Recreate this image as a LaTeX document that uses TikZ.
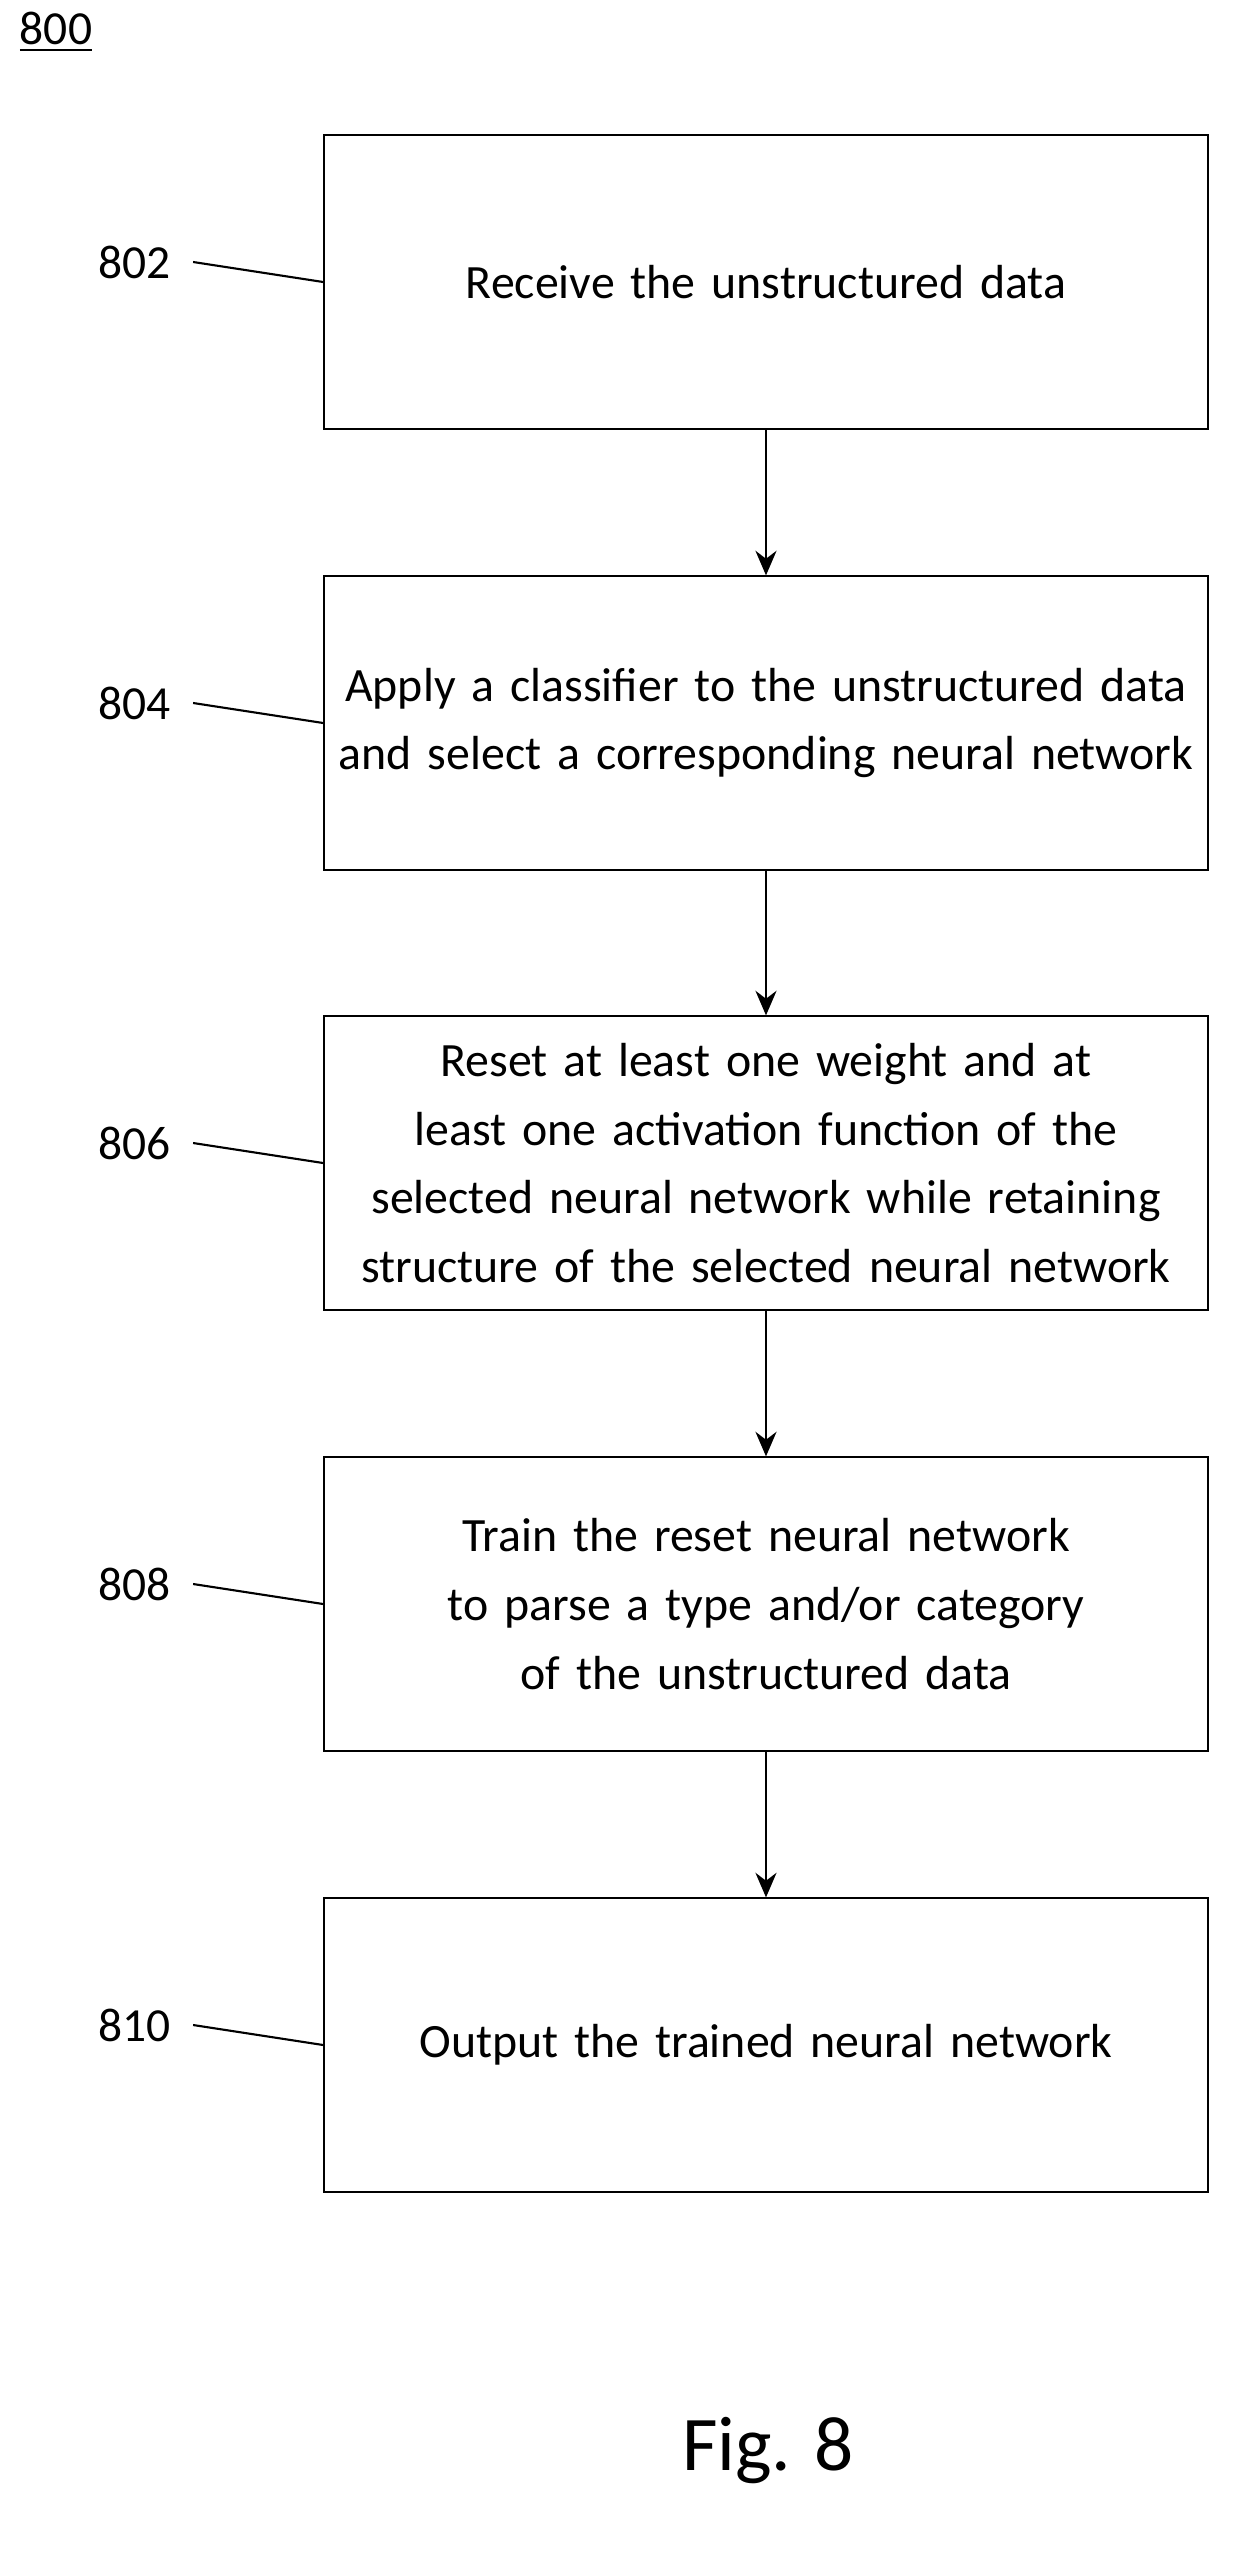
\documentclass[tikz,border=0pt]{standalone}
\usepackage{fontspec}
\setmainfont{Carlito}
\usetikzlibrary{positioning,arrows.meta}

\begin{document}
\hyphenpenalty=10000
\exhyphenpenalty=10000
\begin{tikzpicture}[
    x=0.01cm, y=-0.01cm,
    box/.style={rectangle, draw, line width=0.6pt, text width=8.75cm, align=center, minimum width=8.83cm, minimum height=2.93cm, inner xsep=1pt, font=\fontsize{13.6}{19.5}\selectfont},
    arrow/.style={-{Stealth[length=7pt,width=6pt]}, line width=0.6pt},
    lead/.style={line width=0.6pt},
    num/.style={font=\fontsize{13.5}{16}\selectfont}
]
\useasboundingbox (0,0) rectangle (1255,2562);
\node[num] at (56,32) {\underline{800}};

\node[box] (receive) at (766,282) {Receive the unstructured data};
\node[box] (classify) at (766,723) {Apply a classifier to the unstructured data and select a corresponding neural network};
\node[box] (reset) at (766,1163) {Reset at least one weight and at least one activation function of the selected neural network while retaining structure of the selected neural network};
\node[box] (train) at (766,1604) {Train the reset neural network to parse a type and/or category of the unstructured data};
\node[box] (output) at (766,2045) {Output the trained neural network};

% step numbers with leader lines
\foreach \n/\b in {802/receive,804/classify,806/reset,808/train,810/output} {
  \node[num, anchor=east] (l\n) at ([xshift=-1.4cm,yshift=0.2cm]\b.west) {\n};
  \draw[lead] ([xshift=0.1cm]l\n.east) -- (\b.west);
}

\draw[arrow] (receive) -- (classify);
\draw[arrow] (classify) -- (reset);
\draw[arrow] (reset) -- (train);
\draw[arrow] (train) -- (output);

\node[font=\fontsize{22}{26}\selectfont] (fig) at (768,2451) {Fig. 8};
\end{tikzpicture}
\end{document}
